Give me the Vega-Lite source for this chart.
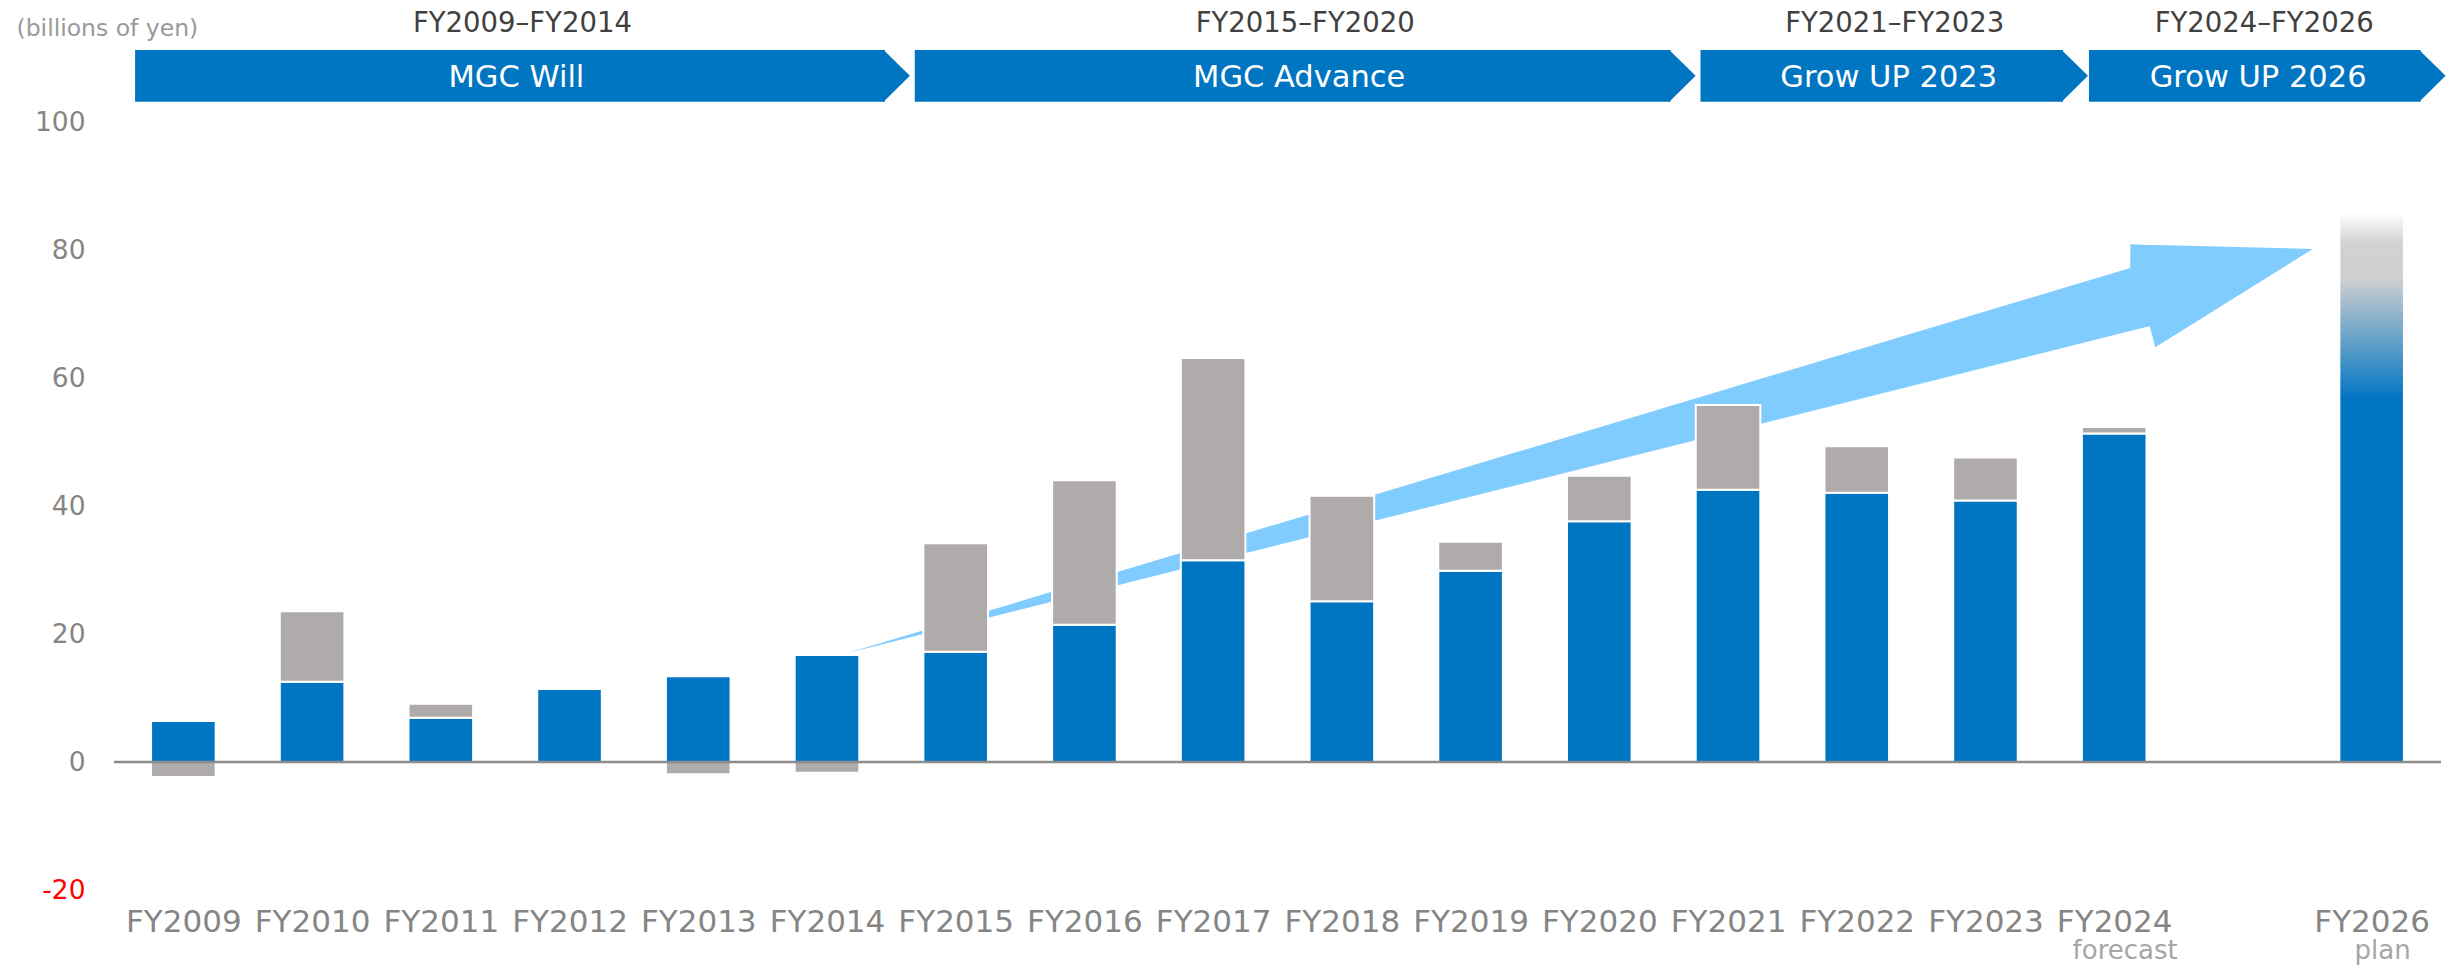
{
  "$schema": "https://vega.github.io/schema/vega-lite/v6.json",
  "width": 2327,
  "height": 768,
  "autosize": "none",
  "padding": {"left": 114, "top": 122, "right": 20, "bottom": 78},
  "background": "white",
  "config": {"view": {"stroke": null}, "font": "DejaVu Sans"},
  "datasets": {
    "profit": [
      {"year": 2009, "part": "Operating profit", "value": 6.41},
      {"year": 2009, "part": "Equity in earnings of affiliates", "value": -2.34},
      {"year": 2010, "part": "Operating profit", "value": 12.55},
      {"year": 2010, "part": "Equity in earnings of affiliates", "value": 11.0},
      {"year": 2011, "part": "Operating profit", "value": 6.92},
      {"year": 2011, "part": "Equity in earnings of affiliates", "value": 2.19},
      {"year": 2012, "part": "Operating profit", "value": 11.41},
      {"year": 2013, "part": "Operating profit", "value": 13.39},
      {"year": 2013, "part": "Equity in earnings of affiliates", "value": -1.92},
      {"year": 2014, "part": "Operating profit", "value": 16.72},
      {"year": 2014, "part": "Equity in earnings of affiliates", "value": -1.67},
      {"year": 2015, "part": "Operating profit", "value": 17.23},
      {"year": 2015, "part": "Equity in earnings of affiliates", "value": 16.94},
      {"year": 2016, "part": "Operating profit", "value": 21.45},
      {"year": 2016, "part": "Equity in earnings of affiliates", "value": 22.57},
      {"year": 2017, "part": "Operating profit", "value": 31.52},
      {"year": 2017, "part": "Equity in earnings of affiliates", "value": 31.61},
      {"year": 2018, "part": "Operating profit", "value": 25.11},
      {"year": 2018, "part": "Equity in earnings of affiliates", "value": 16.5},
      {"year": 2019, "part": "Operating profit", "value": 29.89},
      {"year": 2019, "part": "Equity in earnings of affiliates", "value": 4.53},
      {"year": 2020, "part": "Operating profit", "value": 37.61},
      {"year": 2020, "part": "Equity in earnings of affiliates", "value": 7.12},
      {"year": 2021, "part": "Operating profit", "value": 42.55},
      {"year": 2021, "part": "Equity in earnings of affiliates", "value": 13.23},
      {"year": 2022, "part": "Operating profit", "value": 42.08},
      {"year": 2022, "part": "Equity in earnings of affiliates", "value": 7.25},
      {"year": 2023, "part": "Operating profit", "value": 40.86},
      {"year": 2023, "part": "Equity in earnings of affiliates", "value": 6.7},
      {"year": 2024, "part": "Operating profit", "value": 51.33},
      {"year": 2024, "part": "Equity in earnings of affiliates", "value": 1.01}
    ],
    "target": [{"year": 2026, "value": 85.8}],
    "notes": [{"year": 2024, "note": "forecast"}, {"year": 2026, "note": "plan"}],
    "arrow": [
      {"pos": 2014.153, "top": 16.98, "bottom": 16.98},
      {"pos": 2024.124, "top": 77.2, "bottom": 67.34},
      {"pos": 2024.126, "top": 80.88, "bottom": 67.34},
      {"pos": 2024.276, "top": 80.8, "bottom": 68.09},
      {"pos": 2024.319, "top": 80.78, "bottom": 64.81},
      {"pos": 2025.543, "top": 80.17, "bottom": 80.17}
    ],
    "plans": [
      {"plan": "MGC Will", "period": "FY2009–FY2014", "start": 2008.625, "end": 2014.45, "mid": 2011.634},
      {"plan": "MGC Advance", "period": "FY2015–FY2020", "start": 2014.682, "end": 2020.554, "mid": 2017.715},
      {"plan": "Grow UP 2023", "period": "FY2021–FY2023", "start": 2020.786, "end": 2023.602, "mid": 2022.295},
      {"plan": "Grow UP 2026", "period": "FY2024–FY2026", "start": 2023.804, "end": 2026.38, "mid": 2025.165}
    ]
  },
  "layer": [
    {
      "data": {"name": "arrow"},
      "mark": {"type": "area", "color": "#80ccff", "opacity": 1, "interpolate": "linear"},
      "encoding": {
        "x": {
          "field": "pos", "type": "quantitative",
          "scale": {"domain": [2008.5, 2026.5], "nice": false, "zero": false},
          "axis": {
            "values": [2009, 2010, 2011, 2012, 2013, 2014, 2015, 2016, 2017, 2018, 2019, 2020, 2021, 2022, 2023, 2024, 2026],
            "labelExpr": "'FY' + datum.value",
            "domain": false, "ticks": false, "grid": false, "title": null,
            "labelFont": "DejaVu Sans", "labelFontSize": 31, "labelColor": "#858585",
            "labelPadding": 17, "labelOverlap": false, "labelFlush": false
          }
        },
        "y": {
          "field": "top", "type": "quantitative",
          "scale": {"domain": [-20, 100], "nice": false, "zero": false},
          "axis": {
            "values": [-20, 0, 20, 40, 60, 80, 100],
            "labelExpr": "'' + datum.value",
            "domain": false, "ticks": false, "grid": false, "title": null,
            "labelFont": "DejaVu Sans", "labelFontSize": 26.5,
            "labelColor": {"condition": {"test": "datum.value < 0", "value": "#ff0000"}, "value": "#858585"},
            "labelPadding": 29
          }
        },
        "y2": {"field": "bottom"}
      }
    },
    {
      "data": {"name": "profit"},
      "mark": {"type": "bar", "width": 64.6, "stroke": "white", "strokeWidth": 2},
      "encoding": {
        "x": {"field": "year", "type": "quantitative", "scale": {"domain": [2008.5, 2026.5], "nice": false, "zero": false}},
        "y": {"field": "value", "type": "quantitative", "stack": "zero", "scale": {"domain": [-20, 100], "nice": false, "zero": false}},
        "color": {
          "field": "part", "type": "nominal",
          "scale": {"domain": ["Operating profit", "Equity in earnings of affiliates"], "range": ["#0075c2", "#afabaa"]},
          "legend": null
        },
        "order": {"field": "part", "sort": "descending"}
      }
    },
    {
      "data": {"name": "target"},
      "mark": {
        "type": "bar", "width": 64.6, "stroke": "white", "strokeWidth": 2,
        "color": {
          "gradient": "linear", "x1": 0, "y1": 0, "x2": 0, "y2": 1,
          "stops": [
            {"offset": 0, "color": "#ffffff"},
            {"offset": 0.055, "color": "#d3d2d2"},
            {"offset": 0.12, "color": "#cecfd0"},
            {"offset": 0.34, "color": "#0075c2"},
            {"offset": 1, "color": "#0075c2"}
          ]
        }
      },
      "encoding": {
        "x": {"field": "year", "type": "quantitative", "scale": {"domain": [2008.5, 2026.5], "nice": false, "zero": false}},
        "y": {"field": "value", "type": "quantitative", "scale": {"domain": [-20, 100], "nice": false, "zero": false}}
      }
    },
    {
      "data": {"values": [{}]},
      "mark": {"type": "rule", "color": "#8c8c8c", "strokeWidth": 2.5},
      "encoding": {
        "y": {"datum": 0, "type": "quantitative", "scale": {"domain": [-20, 100], "nice": false, "zero": false}}
      }
    },
    {
      "data": {"name": "plans"},
      "mark": {"type": "rect", "color": "#0075c2"},
      "encoding": {
        "x": {"field": "start", "type": "quantitative", "scale": {"domain": [2008.5, 2026.5], "nice": false, "zero": false}},
        "x2": {"field": "end"},
        "y": {"datum": 103.17, "type": "quantitative", "scale": {"domain": [-20, 100], "nice": false, "zero": false}},
        "y2": {"datum": 111.25}
      }
    },
    {
      "data": {"name": "plans"},
      "mark": {"type": "point", "shape": "M-0.05,-1L0.967,0L-0.05,1Z", "size": 2673, "filled": true, "color": "#0075c2", "opacity": 1, "strokeWidth": 0},
      "encoding": {
        "x": {"field": "end", "type": "quantitative", "scale": {"domain": [2008.5, 2026.5], "nice": false, "zero": false}},
        "y": {"datum": 107.21, "type": "quantitative", "scale": {"domain": [-20, 100], "nice": false, "zero": false}}
      }
    },
    {
      "data": {"name": "plans"},
      "mark": {"type": "text", "color": "#ffffff", "font": "DejaVu Sans", "fontSize": 30.5, "dx": -6, "baseline": "middle", "align": "center"},
      "encoding": {
        "x": {"field": "mid", "type": "quantitative", "scale": {"domain": [2008.5, 2026.5], "nice": false, "zero": false}},
        "y": {"datum": 106.9, "type": "quantitative", "scale": {"domain": [-20, 100], "nice": false, "zero": false}},
        "text": {"field": "plan"}
      }
    },
    {
      "data": {"name": "plans"},
      "mark": {"type": "text", "color": "#404040", "font": "DejaVu Sans", "fontSize": 27.5, "baseline": "middle", "align": "center"},
      "encoding": {
        "x": {"field": "mid", "type": "quantitative", "scale": {"domain": [2008.5, 2026.5], "nice": false, "zero": false}},
        "y": {"datum": 115.3, "type": "quantitative", "scale": {"domain": [-20, 100], "nice": false, "zero": false}},
        "text": {"field": "period"}
      }
    },
    {
      "data": {"values": [{"t": "(billions of yen)"}]},
      "mark": {"type": "text", "color": "#999999", "font": "DejaVu Sans", "fontSize": 23.5, "baseline": "middle", "align": "left"},
      "encoding": {
        "x": {"datum": 2007.704, "type": "quantitative", "scale": {"domain": [2008.5, 2026.5], "nice": false, "zero": false}},
        "y": {"datum": 114.6, "type": "quantitative", "scale": {"domain": [-20, 100], "nice": false, "zero": false}},
        "text": {"field": "t"}
      }
    },
    {
      "data": {"name": "notes"},
      "mark": {"type": "text", "color": "#a6a6a6", "font": "DejaVu Sans", "fontSize": 26, "dx": 11, "baseline": "middle", "align": "center"},
      "encoding": {
        "x": {"field": "year", "type": "quantitative", "scale": {"domain": [2008.5, 2026.5], "nice": false, "zero": false}},
        "y": {"datum": -29.6, "type": "quantitative", "scale": {"domain": [-20, 100], "nice": false, "zero": false}},
        "text": {"field": "note"}
      }
    }
  ]
}
